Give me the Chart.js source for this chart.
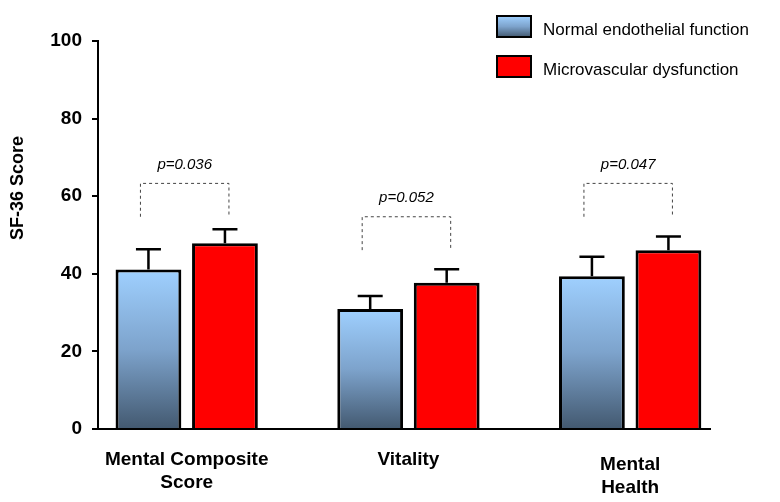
<!DOCTYPE html>
<html>
<head>
<meta charset="utf-8">
<script src="https://cdn.jsdelivr.net/npm/chart.js@4.4.1/dist/chart.umd.min.js"></script>
<style>
    html, body { margin: 0; padding: 0; background: #fff; }
    #wrap { width: 780px; height: 502px; position: relative; }
</style>
</head>
<body>
<div id="wrap"><canvas id="chart"></canvas></div>
<script>
var categories = [['Mental Composite', 'Score'], ['Vitality'], ['Mental', 'Health']];
var seriesNames = ['Normal endothelial function', 'Microvascular dysfunction'];
var normalValues = [41.1, 30.9, 39.4];
var normalErrors = [5.2, 3.4, 5.0];
var microValues = [47.9, 37.7, 46.1];
var microErrors = [3.6, 3.5, 3.5];
var pLabels = ['p=0.036', 'p=0.052', 'p=0.047'];
var bracketTop = [63.3, 54.7, 63.3];
var bracketBottom = [54.7, 46.1, 54.7];
var yTicks = [0, 20, 40, 60, 80, 100];
var yTitle = 'SF-36 Score';

var FONT = '"Liberation Sans", Arial, sans-serif';

function toPoints(values) {
    return values.map(function (v, i) { return { x: i, y: v }; });
}

function blueGradient(c, top, bottom) {
    var g = c.createLinearGradient(0, top, 0, bottom);
    g.addColorStop(0, '#9fd0ff');
    g.addColorStop(0.5, '#7da3cc');
    g.addColorStop(1, '#435970');
    return g;
}

function blueFill(ctx) {
    var chart = ctx.chart;
    if (!chart.chartArea || ctx.type !== 'data') return '#7da3cc';
    var y = chart.scales.y;
    return blueGradient(chart.ctx, y.getPixelForValue(ctx.parsed.y), y.getPixelForValue(0));
}

// error bars (upper half only)
var errorBars = {
    id: 'errorBars',
    afterDatasetsDraw: function (chart) {
        var c = chart.ctx, y = chart.scales.y;
        var errs = [normalErrors, microErrors];
        c.save();
        c.strokeStyle = '#000';
        c.lineWidth = 2.5;
        chart.data.datasets.forEach(function (ds, i) {
            chart.getDatasetMeta(i).data.forEach(function (bar, j) {
                var v = ds.data[j].y;
                var y0 = y.getPixelForValue(v);
                var y1 = y.getPixelForValue(v + errs[i][j]);
                c.beginPath();
                c.moveTo(bar.x, y0);
                c.lineTo(bar.x, y1);
                c.moveTo(bar.x - 12.5, y1);
                c.lineTo(bar.x + 12.5, y1);
                c.stroke();
            });
        });
        c.restore();
    }
};

// dashed brackets with p values
var brackets = {
    id: 'brackets',
    afterDatasetsDraw: function (chart) {
        var c = chart.ctx, y = chart.scales.y;
        var a = chart.getDatasetMeta(0).data, b = chart.getDatasetMeta(1).data;
        c.save();
        pLabels.forEach(function (label, j) {
            var x0 = a[j].x - 8, x1 = b[j].x + 4;
            var yt = y.getPixelForValue(bracketTop[j]);
            var yb = y.getPixelForValue(bracketBottom[j]);
            c.strokeStyle = '#444';
            c.lineWidth = 1;
            c.setLineDash([3, 3]);
            c.beginPath();
            c.moveTo(x0, yb);
            c.lineTo(x0, yt);
            c.lineTo(x1, yt);
            c.lineTo(x1, yb);
            c.stroke();
            c.setLineDash([]);
            c.fillStyle = '#000';
            c.font = 'italic 15px ' + FONT;
            c.textAlign = 'center';
            c.textBaseline = 'middle';
            c.fillText(label, (x0 + x1) / 2, yt - 19);
        });
        c.restore();
    }
};

// category labels under the x axis
var catLabels = {
    id: 'catLabels',
    afterDraw: function (chart) {
        var c = chart.ctx, x = chart.scales.x;
        var shift = [0, 0, 5];
        c.save();
        c.font = 'bold 19px ' + FONT;
        c.fillStyle = '#000';
        c.textAlign = 'center';
        c.textBaseline = 'alphabetic';
        categories.forEach(function (lines, i) {
            lines.forEach(function (t, k) {
                c.fillText(t, x.getPixelForValue(i), 465 + shift[i] + k * 22.5);
            });
        });
        c.restore();
    }
};

// y title and legend
var extras = {
    id: 'extras',
    afterDraw: function (chart) {
        var c = chart.ctx;
        c.save();
        c.translate(18.5, 188);
        c.rotate(-Math.PI / 2);
        c.font = 'bold 18px ' + FONT;
        c.fillStyle = '#000';
        c.textAlign = 'center';
        c.textBaseline = 'middle';
        c.fillText(yTitle, 0, 0);
        c.restore();

        c.save();
        chart.data.datasets.forEach(function (ds, i) {
            var top = 16 + i * 40;
            c.fillStyle = i === 0 ? blueGradient(c, top, top + 21) : ds.backgroundColor;
            c.fillRect(497, top, 34, 21);
            c.lineWidth = 2;
            c.strokeStyle = '#000';
            c.strokeRect(497, top, 34, 21);
            c.fillStyle = '#000';
            c.font = '17px ' + FONT;
            c.textAlign = 'left';
            c.textBaseline = 'alphabetic';
            c.fillText(ds.label, 543, top + 19);
        });
        c.restore();
    }
};

new Chart(document.getElementById('chart'), {
    type: 'bar',
    data: {
        datasets: [{
            label: seriesNames[0],
            data: toPoints(normalValues),
            backgroundColor: blueFill,
            borderColor: '#000',
            borderWidth: 3,
            categoryPercentage: 0.69,
            barPercentage: 0.86
        }, {
            label: seriesNames[1],
            data: toPoints(microValues),
            backgroundColor: '#ff0000',
            borderColor: '#000',
            borderWidth: 3,
            categoryPercentage: 0.69,
            barPercentage: 0.86
        }]
    },
    options: {
        responsive: true,
        maintainAspectRatio: false,
        animation: false,
        layout: { padding: { left: 0, right: 70, top: 41, bottom: 0 } },
        plugins: {
            legend: { display: false },
            tooltip: { enabled: false }
        },
        scales: {
            x: {
                type: 'linear',
                min: -0.4,
                max: 2.36,
                offset: false,
                grid: { display: false, offset: false },
                border: { color: '#000', width: 2 },
                ticks: { display: false },
                afterBuildTicks: function (s) {
                    s.ticks = categories.map(function (c, i) { return { value: i }; });
                },
                afterFit: function (s) { s.height = 73; }
            },
            y: {
                min: 0,
                max: 100,
                afterBuildTicks: function (s) {
                    s.ticks = yTicks.map(function (v) { return { value: v }; });
                },
                ticks: {
                    color: '#000',
                    padding: 10,
                    font: { family: FONT, size: 19, weight: 'bold' }
                },
                grid: { drawOnChartArea: false, drawTicks: true, tickLength: 6, color: '#000', lineWidth: 2 },
                border: { color: '#000', width: 2 },
                afterFit: function (s) { s.width = 98; }
            }
        }
    },
    plugins: [errorBars, brackets, catLabels, extras]
});
</script>
</body>
</html>
